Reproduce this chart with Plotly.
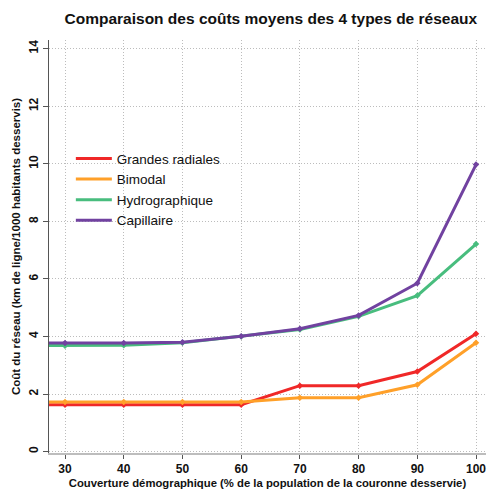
import plotly.graph_objects as go

# Couverture démographique (%)
couverture = [20, 30, 40, 50, 60, 70, 80, 90, 100]

# Coût du réseau (km de ligne / 1000 habitants desservis)
grandes_radiales = [1.63, 1.63, 1.63, 1.63, 1.63, 2.29, 2.29, 2.78, 4.09]
bimodal = [1.72, 1.72, 1.72, 1.72, 1.72, 1.87, 1.87, 2.32, 3.78]
hydrographique = [3.68, 3.68, 3.69, 3.78, 4.0, 4.24, 4.70, 5.42, 7.21]
capillaire = [3.77, 3.77, 3.77, 3.80, 4.01, 4.27, 4.73, 5.85, 9.97]

x_ticks = [30, 40, 50, 60, 70, 80, 90, 100]
y_ticks = [0, 2, 4, 6, 8, 10, 12, 14]

series = [
    ("Grandes radiales", grandes_radiales, "#f02828"),
    ("Bimodal", bimodal, "#ffa029"),
    ("Hydrographique", hydrographique, "#48bd7e"),
    ("Capillaire", capillaire, "#7142a0"),
]

fig = go.Figure()
for name, values, color in series:
    fig.add_trace(go.Scatter(
        x=couverture, y=values, name=name, mode="lines+markers",
        line=dict(color=color, width=3),
        marker=dict(symbol="diamond", size=5, color=color),
        showlegend=False, legendgroup=name,
    ))
# Legend entries show the line only
for name, values, color in series:
    fig.add_trace(go.Scatter(
        x=[None], y=[None], name=name, mode="lines",
        line=dict(color=color, width=3), legendgroup=name,
    ))

fig.update_layout(
    width=488, height=490,
    margin=dict(l=49, r=2, t=40, b=35),
    paper_bgcolor="white", plot_bgcolor="white",
    font=dict(family="Liberation Sans, Arial, sans-serif", color="#111111"),
    title=dict(
        text="<b>Comparaison des coûts moyens des 4 types de réseaux</b>",
        x=0.555, xanchor="center", y=0.963, yanchor="middle",
        font=dict(size=15.5, color="#111111"),
    ),
    legend=dict(
        x=0.05, y=0.75, xanchor="left", yanchor="top",
        bgcolor="rgba(255,255,255,0)", font=dict(size=13.5),
        itemwidth=36, tracegroupgap=0,
    ),
    showlegend=True,
)

fig.update_xaxes(
    range=[27.27, 101.7], tickvals=x_ticks,
    ticktext=[f"<b>{v}</b>" for v in x_ticks],
    tickfont=dict(size=12),
    showgrid=True, gridcolor="#bcbcbc", griddash="1px,2px", gridwidth=1,
    showline=True, linecolor="#bdbdbd", linewidth=1.5,
    ticks="outside", ticklen=4, tickcolor="#555555",
    zeroline=False,
    title=dict(text="<b>Couverture démographique (% de la population de la couronne desservie)</b>",
               font=dict(size=11.3), standoff=4),
)
fig.update_yaxes(
    range=[-0.05, 14.3], tickvals=y_ticks,
    ticktext=[f"<b>{v}</b>" for v in y_ticks],
    tickangle=-90, tickfont=dict(size=12),
    showgrid=True, gridcolor="#bcbcbc", griddash="1px,2px", gridwidth=1,
    showline=True, linecolor="#555555", linewidth=1,
    ticks="outside", ticklen=5, tickcolor="#555555",
    zeroline=False,
    title=dict(text="<b>Coût du réseau (km de ligne/1000 habitants desservis)</b>",
               font=dict(size=11.5), standoff=4),
)

fig.write_html("out.html")
